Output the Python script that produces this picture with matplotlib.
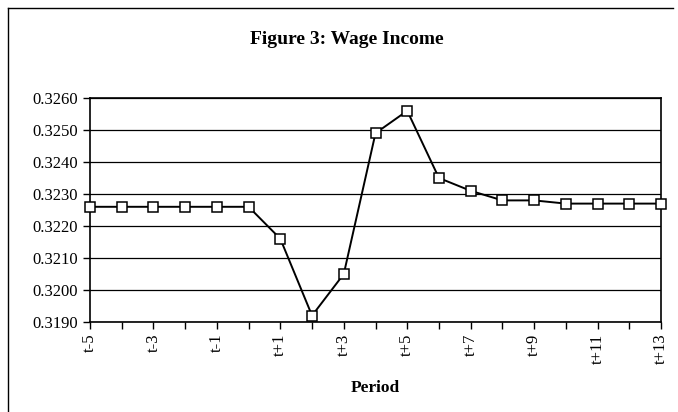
import matplotlib
matplotlib.use("Agg")
import matplotlib.pyplot as plt
from matplotlib.lines import Line2D

periods = ["t-5", "t-4", "t-3", "t-2", "t-1", "t", "t+1", "t+2", "t+3", "t+4", "t+5",
           "t+6", "t+7", "t+8", "t+9", "t+10", "t+11", "t+12", "t+13"]
wage = [0.3226, 0.3226, 0.3226, 0.3226, 0.3226, 0.3226, 0.3216, 0.3192, 0.3205, 0.3249,
        0.3256, 0.3235, 0.3231, 0.3228, 0.3228, 0.3227, 0.3227, 0.3227, 0.3227]
yticks = [0.3190, 0.3200, 0.3210, 0.3220, 0.3230, 0.3240, 0.3250, 0.3260]

plt.rcParams['font.family'] = ['Liberation Serif', 'DejaVu Serif']

fig = plt.figure(figsize=(6.78, 4.12), dpi=100)
ax = fig.add_axes([90/678, 1-322/412, (661-90)/678, (322-98)/412])

x = list(range(len(periods)))
ax.plot(x, wage, color='black', lw=1.4, marker='s', markersize=6.5,
        markerfacecolor='white', markeredgecolor='black', markeredgewidth=1.1,
        clip_on=False, zorder=3)

ax.set_xlim(0, len(periods)-1)
ax.set_ylim(yticks[0], yticks[-1])
ax.set_yticks(yticks)
ax.set_yticklabels([f"{v:.4f}" for v in yticks], fontsize=12)
ax.set_xticks(x)
ax.set_xticklabels([p if i % 2 == 0 else "" for i, p in enumerate(periods)],
                   rotation=90, fontsize=12)
for yv in yticks:
    ax.axhline(yv, color='black', lw=0.9, zorder=1)
for s in ax.spines.values():
    s.set_color('black')
    s.set_linewidth(1.2)
ax.tick_params(axis='both', direction='out', length=5, color='black', width=1)
ax.set_xlabel("Period", fontsize=12.5, fontweight='bold', labelpad=11)

fig.text(347/678, 1-40/412, "Figure 3: Wage Income", ha='center', va='center',
         fontsize=14, fontweight='bold')

# outer chart border
fig.add_artist(Line2D([8/678, 8/678], [0, 1-8/412], transform=fig.transFigure, color='black', lw=1))
fig.add_artist(Line2D([8/678, 673/678], [1-8/412, 1-8/412], transform=fig.transFigure, color='black', lw=1))

fig.savefig("out.png", dpi=100, facecolor='white')
